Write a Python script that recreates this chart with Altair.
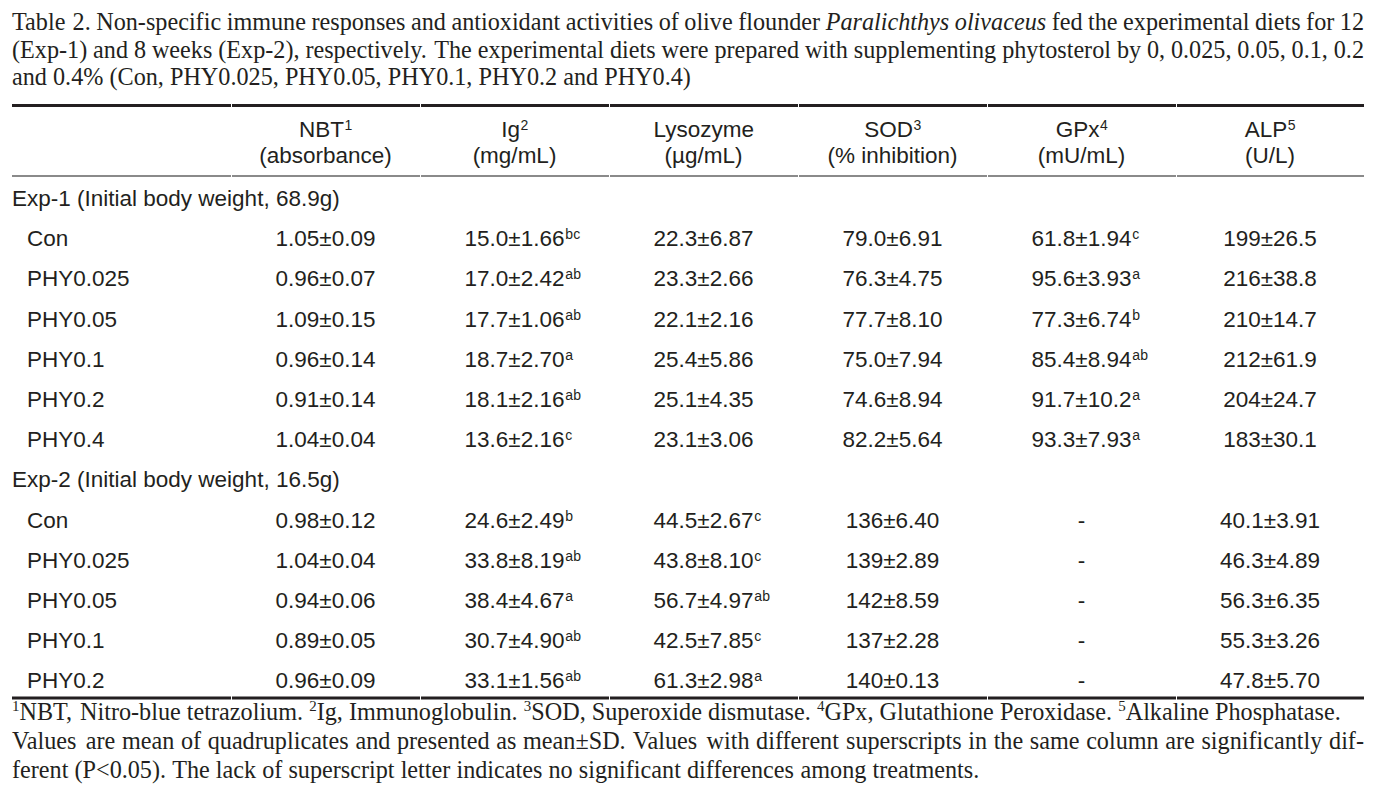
import altair as alt
import pandas as pd

# ---------------- content ----------------
title_runs = [
    [("Table 2. Non-specific immune responses and antioxidant activities of olive flounder ", "serif"),
     ("Paralichthys olivaceus", "italic"),
     (" fed the experimental diets for 12", "serif")],
    [("(Exp-1) and 8 weeks (Exp-2), respectively. The experimental diets were prepared with supplementing phytosterol by 0, 0.025, 0.05, 0.1, 0.2", "serif")],
    [("and 0.4% (Con, PHY0.025, PHY0.05, PHY0.1, PHY0.2 and PHY0.4)", "serif")],
]
title_justified = [True, True, False]

foot_runs = [
    [("1", "sup"), ("NBT, Nitro-blue tetrazolium. ", "serif"), ("2", "sup"), ("Ig, Immunoglobulin. ", "serif"),
     ("3", "sup"), ("SOD, Superoxide dismutase. ", "serif"), ("4", "sup"), ("GPx, Glutathione Peroxidase. ", "serif"),
     ("5", "sup"), ("Alkaline Phosphatase.", "serif")],
    [("Values are mean of quadruplicates and presented as mean±SD. Values with different superscripts in the same column are significantly dif-", "serif")],
    [("ferent (P<0.05). The lack of superscript letter indicates no significant differences among treatments.", "serif")],
]
foot_justified = [False, True, False]

columns = ["NBT", "Ig", "Lysozyme", "SOD", "GPx", "ALP"]
column_notes = ["1", "2", "", "3", "4", "5"]
column_units = ["(absorbance)", "(mg/mL)", "(µg/mL)", "(% inhibition)", "(mU/mL)", "(U/L)"]

groups = ["Exp-1 (Initial body weight, 68.9g)", "Exp-2 (Initial body weight, 16.5g)"]
exp1_diets = ["Con", "PHY0.025", "PHY0.05", "PHY0.1", "PHY0.2", "PHY0.4"]
exp2_diets = ["Con", "PHY0.025", "PHY0.05", "PHY0.1", "PHY0.2"]

exp1_nbt = ["1.05±0.09", "0.96±0.07", "1.09±0.15", "0.96±0.14", "0.91±0.14", "1.04±0.04"]
exp1_ig = ["15.0±1.66", "17.0±2.42", "17.7±1.06", "18.7±2.70", "18.1±2.16", "13.6±2.16"]
exp1_ig_sup = ["bc", "ab", "ab", "a", "ab", "c"]
exp1_lys = ["22.3±6.87", "23.3±2.66", "22.1±2.16", "25.4±5.86", "25.1±4.35", "23.1±3.06"]
exp1_sod = ["79.0±6.91", "76.3±4.75", "77.7±8.10", "75.0±7.94", "74.6±8.94", "82.2±5.64"]
exp1_gpx = ["61.8±1.94", "95.6±3.93", "77.3±6.74", "85.4±8.94", "91.7±10.2", "93.3±7.93"]
exp1_gpx_sup = ["c", "a", "b", "ab", "a", "a"]
exp1_alp = ["199±26.5", "216±38.8", "210±14.7", "212±61.9", "204±24.7", "183±30.1"]

exp2_nbt = ["0.98±0.12", "1.04±0.04", "0.94±0.06", "0.89±0.05", "0.96±0.09"]
exp2_ig = ["24.6±2.49", "33.8±8.19", "38.4±4.67", "30.7±4.90", "33.1±1.56"]
exp2_ig_sup = ["b", "ab", "a", "ab", "ab"]
exp2_lys = ["44.5±2.67", "43.8±8.10", "56.7±4.97", "42.5±7.85", "61.3±2.98"]
exp2_lys_sup = ["c", "c", "ab", "c", "a"]
exp2_sod = ["136±6.40", "139±2.89", "142±8.59", "137±2.28", "140±0.13"]
exp2_gpx = ["-", "-", "-", "-", "-"]
exp2_alp = ["40.1±3.91", "46.3±4.89", "56.3±6.35", "55.3±3.26", "47.8±5.70"]

# ---------------- layout / style ----------------
W, H = 1368, 786
INK = "#231f20"
SERIF = "Liberation Serif"
SANS = "Liberation Sans"
SERIF_SIZE = 24.2
SERIF_SUP_SIZE = 15
SANS_SIZE = 22.5
SANS_SUP_SIZE = 14
LEFT, RIGHT = 12, 1364
COL_EDGES = [12, 231, 420, 609, 798, 987, 1176, 1364]
CENTERS = [(COL_EDGES[i] + COL_EDGES[i + 1]) / 2 for i in range(1, 7)]
TITLE_BASES = [30, 57.5, 85]
FOOT_BASES = [720, 749, 778]
HEAD_BASE, UNIT_BASE = 137, 163
ROW0, ROW_STEP = 206, 40.2

TIMES = {" ": 250, "!": 333, "%": 833, "(": 333, ")": 333, ",": 250, "-": 333, ".": 250, "<": 564,
         "±": 564, ":": 278, "A": 722, "B": 667, "C": 667, "D": 722, "E": 611, "F": 556, "G": 722,
         "H": 722, "I": 333, "L": 611, "N": 722, "O": 722, "P": 556, "S": 556, "T": 611, "V": 722,
         "W": 944, "Y": 722, "a": 444, "b": 500, "c": 444, "d": 500, "e": 444, "f": 333, "g": 500,
         "h": 500, "i": 278, "j": 278, "k": 500, "l": 278, "m": 778, "n": 500, "o": 500, "p": 500,
         "q": 500, "r": 333, "s": 389, "t": 278, "u": 500, "v": 500, "w": 722, "x": 500, "y": 500,
         "z": 444}
TIMES_I = {" ": 250, "P": 611, "a": 500, "r": 389, "l": 278, "i": 278, "c": 444, "h": 500,
           "t": 278, "y": 444, "s": 389, "o": 500, "v": 444, "e": 444, "u": 500}
ARIAL = {"±": 584, ".": 278, "-": 333, " ": 278, "N": 722, "B": 667, "T": 611, "I": 278, "g": 556,
         "S": 667, "O": 778, "D": 722, "G": 778, "P": 667, "x": 500, "A": 667, "L": 556, "a": 556,
         "b": 556, "c": 500}


def serif_w(text, style):
    if style == "italic":
        return sum(TIMES_I.get(c, 500) for c in text) / 1000 * SERIF_SIZE
    if style == "sup":
        return sum(TIMES.get(c, 500) for c in text) / 1000 * SERIF_SUP_SIZE
    return sum(TIMES.get(c, 500) for c in text) / 1000 * SERIF_SIZE


def sans_w(text, size=SANS_SIZE):
    return sum(ARIAL.get(c, 556) for c in text) / 1000 * size


def words_of(runs):
    words, cur = [], []
    for text, style in runs:
        if style == "sup":
            cur.append((text, style))
            continue
        for i, p in enumerate(text.split(" ")):
            if i > 0 and cur:
                words.append(cur)
                cur = []
            if p:
                cur.append((p, style))
    if cur:
        words.append(cur)
    return words


def layout(runs, base, justify):
    words = words_of(runs)
    widths = [sum(serif_w(t, s) for t, s in wd) for wd in words]
    gap = (RIGHT - LEFT - sum(widths)) / (len(words) - 1) if justify else 0.25 * SERIF_SIZE
    recs, x = [], LEFT
    for wd, ww in zip(words, widths):
        xx = x
        for t, s in wd:
            recs.append({"x": xx, "y": base - (9 if s == "sup" else 0), "text": t, "style": s})
            xx += serif_w(t, s)
        x += ww + gap
    return recs


serif_recs = []
for runs, base, j in zip(title_runs, TITLE_BASES, title_justified):
    serif_recs += layout(runs, base, j)
for runs, base, j in zip(foot_runs, FOOT_BASES, foot_justified):
    serif_recs += layout(runs, base, j)
serif_df = pd.DataFrame(serif_recs)

left_recs, center_recs, sup_recs = [], [], []

# header
for name, note, unit, cx in zip(columns, column_notes, column_units, CENTERS):
    wm = sans_w(name)
    ws = sans_w(note, SANS_SUP_SIZE)
    x0 = cx - (wm + ws) / 2
    left_recs.append({"x": x0, "y": HEAD_BASE, "text": name})
    if note:
        sup_recs.append({"x": x0 + wm + 0.5, "y": HEAD_BASE - 7, "text": note})
    center_recs.append({"x": cx, "y": UNIT_BASE, "text": unit})

blank1 = [""] * len(exp1_diets)
blank2 = [""] * len(exp2_diets)
blocks = [
    (groups[0], exp1_diets,
     [(exp1_nbt, blank1), (exp1_ig, exp1_ig_sup), (exp1_lys, blank1),
      (exp1_sod, blank1), (exp1_gpx, exp1_gpx_sup), (exp1_alp, blank1)]),
    (groups[1], exp2_diets,
     [(exp2_nbt, blank2), (exp2_ig, exp2_ig_sup), (exp2_lys, exp2_lys_sup),
      (exp2_sod, blank2), (exp2_gpx, blank2), (exp2_alp, blank2)]),
]
row = 0
for glabel, diets, cols in blocks:
    left_recs.append({"x": LEFT, "y": ROW0 + row * ROW_STEP, "text": glabel})
    row += 1
    for i, diet in enumerate(diets):
        y = ROW0 + row * ROW_STEP
        left_recs.append({"x": 27, "y": y, "text": diet})
        for (vals, sups), cx in zip(cols, CENTERS):
            center_recs.append({"x": cx, "y": y, "text": vals[i]})
            if sups[i]:
                sup_recs.append({"x": cx + sans_w(vals[i]) / 2 + 0.5, "y": y - 7, "text": sups[i]})
        row += 1

left_df = pd.DataFrame(left_recs)
center_df = pd.DataFrame(center_recs)
sup_df = pd.DataFrame(sup_recs)

# horizontal rules, broken at column boundaries
rule_recs = []
for kind, yy in [("thick", 105.5), ("thin", 176), ("thick", 698)]:
    for i in range(7):
        rule_recs.append({"x": COL_EDGES[i] + (1 if i > 0 else 0), "x2": COL_EDGES[i + 1], "y": yy, "kind": kind})
rule_df = pd.DataFrame(rule_recs)

xs = alt.Scale(domain=[8, 8 + W], nice=False, zero=False)
ys = alt.Scale(domain=[8, 8 + H], nice=False, zero=False, reverse=True)
X = alt.X("x:Q", scale=xs, axis=None)
Y = alt.Y("y:Q", scale=ys, axis=None)

thick = alt.Chart(rule_df).transform_filter("datum.kind == 'thick'").mark_rule(
    color=INK, strokeWidth=3).encode(x=X, x2="x2:Q", y=Y)
thin = alt.Chart(rule_df).transform_filter("datum.kind == 'thin'").mark_rule(
    color="#8a8a8a", strokeWidth=2).encode(x=X, x2="x2:Q", y=Y)

def serif_layer(style, **kw):
    return alt.Chart(serif_df).transform_filter(f"datum.style == '{style}'").mark_text(
        align="left", baseline="alphabetic", font=SERIF, color=INK, **kw).encode(x=X, y=Y, text="text:N")

t_serif = serif_layer("serif", fontSize=SERIF_SIZE)
t_italic = serif_layer("italic", fontSize=SERIF_SIZE, fontStyle="italic")
t_fsup = serif_layer("sup", fontSize=SERIF_SUP_SIZE)

t_left = alt.Chart(left_df).mark_text(align="left", baseline="alphabetic", font=SANS,
                                      fontSize=SANS_SIZE, color=INK).encode(x=X, y=Y, text="text:N")
t_center = alt.Chart(center_df).mark_text(align="center", baseline="alphabetic", font=SANS,
                                          fontSize=SANS_SIZE, color=INK).encode(x=X, y=Y, text="text:N")
t_sup = alt.Chart(sup_df).mark_text(align="left", baseline="alphabetic", font=SANS,
                                    fontSize=SANS_SUP_SIZE, color=INK).encode(x=X, y=Y, text="text:N")

chart = alt.layer(thick, thin, t_serif, t_italic, t_fsup, t_left, t_center, t_sup).properties(
    width=W, height=H, autosize=alt.AutoSizeParams(type="none"), padding=0, background="white"
).configure_view(stroke=None)

chart.save("out.html", embed_options={"renderer": "svg", "actions": False})
